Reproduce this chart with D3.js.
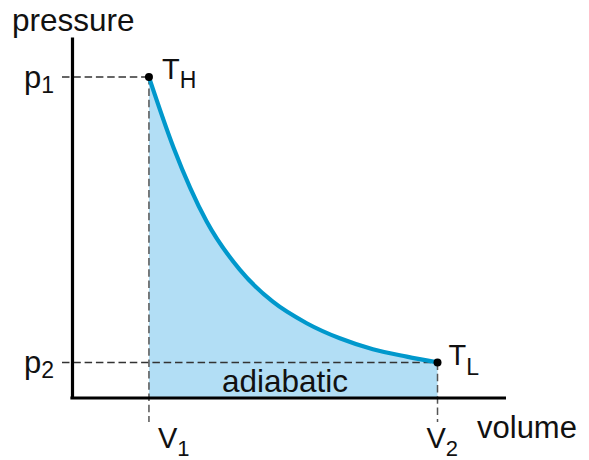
<!DOCTYPE html>
<html>
<head>
<meta charset="utf-8">
<script src="https://cdn.jsdelivr.net/npm/d3@7"></script>
<style>
  html, body { margin: 0; padding: 0; background: #fff; }
  svg { display: block; }
  text { font-family: "Liberation Sans", Arial, Helvetica, sans-serif; fill: #111; }
</style>
</head>
<body>
<svg id="chart" width="589" height="460"></svg>
<script>
// Adiabatic expansion on a p–V diagram (V1 = 1, p1 = 1)
const volume   = [1.00, 1.32, 1.75, 2.18, 2.61, 3.05, 3.48, 3.91, 4.35, 4.75];
const pressure = [1.00, 0.78, 0.55, 0.40, 0.30, 0.233, 0.186, 0.152, 0.129, 0.111];

const states = [
  { name: "H", v: 1.00, p: 1.00 },   // hot end  (V1, p1)
  { name: "L", v: 4.75, p: 0.111 }   // cold end (V2, p2)
];
const pressureTicks = [{ base: "p", sub: "1", value: 1.00 }, { base: "p", sub: "2", value: 0.111 }];
const volumeTicks   = [{ base: "V", sub: "1", value: 1.00 }, { base: "V", sub: "2", value: 4.75 }];
const processLabel = "adiabatic";
const xTitle = "volume", yTitle = "pressure";

const svg = d3.select("#chart");
const x = d3.scaleLinear().domain([0, 5.64]).range([72, 506]);
const y = d3.scaleLinear().domain([0, 1.125]).range([398, 37]);

const pts = volume.map((v, i) => ({ v, p: pressure[i] }));

// shaded work area under the curve
const area = d3.area()
  .x(d => x(d.v)).y0(y(0)).y1(d => y(d.p))
  .curve(d3.curveMonotoneX);
svg.append("path").datum(pts)
  .attr("d", area)
  .attr("fill", "#b2def5");

// guide lines to the axes
const dash = "7.5,3.8";
svg.selectAll("line.hguide").data(pressureTicks).join("line")
  .attr("class", "hguide")
  .attr("x1", 62).attr("x2", (d, i) => x(states[i].v))
  .attr("y1", d => y(d.value)).attr("y2", d => y(d.value))
  .attr("stroke", "#333").attr("stroke-width", 1.5)
  .attr("stroke-dasharray", dash);
svg.selectAll("line.vguide").data(volumeTicks).join("line")
  .attr("class", "vguide")
  .attr("x1", d => x(d.value)).attr("x2", d => x(d.value))
  .attr("y1", (d, i) => y(states[i].p)).attr("y2", 422)
  .attr("stroke", "#555").attr("stroke-width", 1.5)
  .attr("stroke-dasharray", dash);

// axes: plain heavy lines, no tick marks
const yAxis = d3.axisLeft(y).tickValues([]).tickSizeOuter(0);
const xAxis = d3.axisBottom(x).tickValues([]).tickSizeOuter(0);
const gy = svg.append("g").attr("transform", `translate(${x(0)},0)`).call(yAxis);
const gx = svg.append("g").attr("transform", `translate(0,${y(0)})`).call(xAxis);
gy.select(".domain").attr("stroke", "#000").attr("stroke-width", 3.2);
gx.select(".domain").attr("stroke", "#000").attr("stroke-width", 3.2);
gx.select(".domain").attr("d", `M${x(0) - 1.6},0H${x.range()[1]}`);

// the adiabat itself
const line = d3.line().x(d => x(d.v)).y(d => y(d.p)).curve(d3.curveMonotoneX);
svg.append("path").datum(pts)
  .attr("d", line)
  .attr("fill", "none")
  .attr("stroke", "#0098cc")
  .attr("stroke-width", 4.2)
  .attr("stroke-linecap", "round");

// state points
svg.selectAll("circle.state").data(states).join("circle")
  .attr("cx", d => x(d.v)).attr("cy", d => y(d.p)).attr("r", 4)
  .attr("fill", "#000");

// subscripted labels
function subLabel(g, base, sub, xPos, yPos, size, subSize, dy) {
  const t = g.append("text").attr("x", xPos).attr("y", yPos).attr("font-size", size);
  t.append("tspan").text(base);
  t.append("tspan").attr("font-size", subSize).attr("dy", dy).text(sub);
  return t;
}

// T labels beside state points
subLabel(svg, "T", states[0].name, x(states[0].v) + 13, y(states[0].p) + 2, 29, 23, 9);
subLabel(svg, "T", states[1].name, x(states[1].v) + 11, y(states[1].p) + 3, 29, 23, 10);

// pressure tick labels
pressureTicks.forEach(d => {
  subLabel(svg, d.base, d.sub, 24, y(d.value) + 11, 31, 23, 5);
});
// volume tick labels
volumeTicks.forEach(d => {
  subLabel(svg, d.base, d.sub, x(d.value) + 9 - (d.sub === "2" ? 20 : 0), 448, 29, 22, 8);
});

// axis titles
svg.append("text").attr("x", 12).attr("y", 31).attr("font-size", 31.5).text(yTitle);
svg.append("text").attr("x", 477).attr("y", 438).attr("font-size", 31).text(xTitle);

// process label
svg.append("text").attr("x", 285).attr("y", 392).attr("text-anchor", "middle")
  .attr("font-size", 31.5).text(processLabel);
</script>
</body>
</html>
